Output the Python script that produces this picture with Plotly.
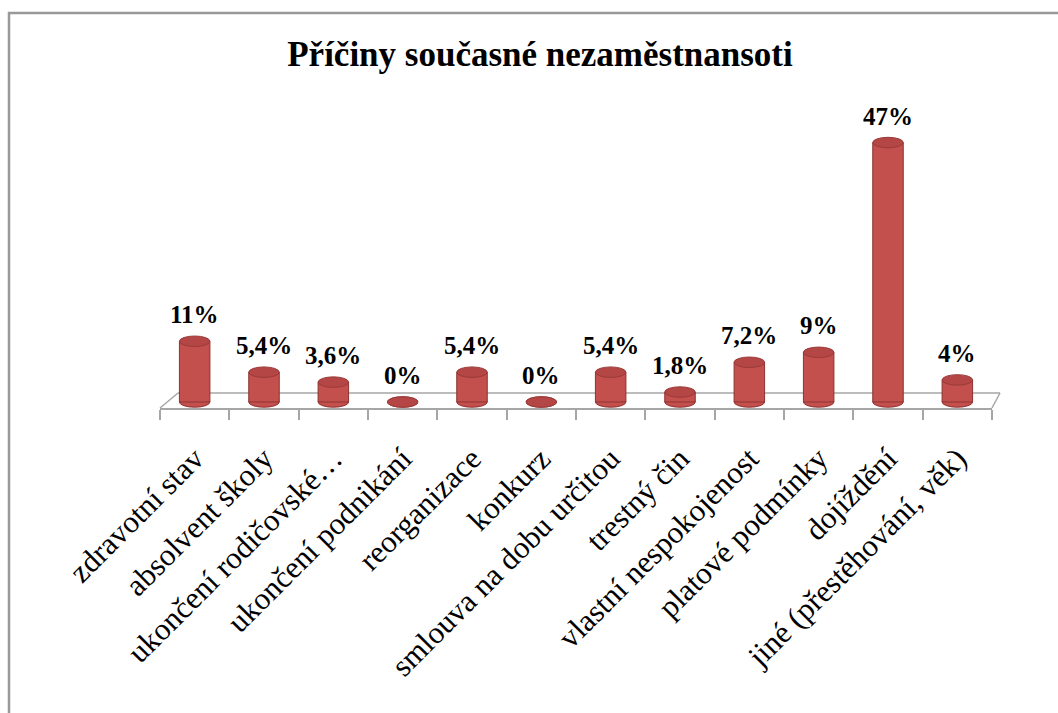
import plotly.graph_objects as go

categories = ["zdravotní stav", "absolvent školy", "ukončení rodičovské…", "ukončení podnikání",
              "reorganizace", "konkurz", "smlouva na dobu určitou", "trestný čin",
              "vlastní nespokojenost", "platové podmínky", "dojíždění", "jiné (přestěhování, věk)"]
values = [11, 5.4, 3.6, 0, 5.4, 0, 5.4, 1.8, 7.2, 9, 47, 4]
value_labels = ["11%", "5,4%", "3,6%", "0%", "5,4%", "0%", "5,4%", "1,8%", "7,2%", "9%", "47%", "4%"]
title_text = "Příčiny současné nezaměstnansoti"

W, H = 1058, 713
L, R, T, B = 160, 66, 126, 305
pw, ph = W - L - R, H - T - B

def px(x):
    return (x - L) / pw

def py(y):
    return (H - B - y) / ph

BAR_FILL = "#C4504E"
BAR_EDGE = "#8E3331"
label_font = dict(family="Liberation Serif", size=25, color="black", weight="bold")

fig = go.Figure()
fig.add_trace(go.Bar(
    x=list(range(len(categories))), y=values,
    marker=dict(color=BAR_FILL, line=dict(color=BAR_EDGE, width=1)),
    cliponaxis=False, hoverinfo="skip",
))

grey = "#A6A6A6"
shapes = [
    # chart frame (left and top edges)
    dict(type="line", xref="paper", yref="paper", x0=px(9), x1=px(9), y0=py(12), y1=py(H + 5),
         line=dict(color="#999999", width=2.5)),
    dict(type="line", xref="paper", yref="paper", x0=px(8), x1=px(W + 5), y0=py(13), y1=py(13),
         line=dict(color="#999999", width=2.5)),
    # floor back edge and sides
    dict(type="line", xref="paper", yref="paper", x0=px(178), x1=px(1000), y0=py(393), y1=py(393),
         line=dict(color=grey, width=1.5), layer="below"),
    dict(type="line", xref="paper", yref="paper", x0=px(L), x1=px(178), y0=0, y1=py(393),
         line=dict(color=grey, width=1.5), layer="below"),
    dict(type="line", xref="paper", yref="paper", x0=px(W - R), x1=px(1000), y0=0, y1=py(393),
         line=dict(color=grey, width=1.5), layer="below"),
]

half_w = 0.22   # half width of the cylinder in category units
cap_h = 0.95    # half height of the elliptical cap in value units
for i, v in enumerate(values):
    # rounded bottom of the cylinder
    shapes.append(dict(type="circle", xref="x", yref="y", x0=i - half_w, x1=i + half_w,
                       y0=-cap_h, y1=cap_h, fillcolor=BAR_FILL,
                       line=dict(color=BAR_EDGE, width=1), layer="below"))
    # elliptical top cap
    shapes.append(dict(type="circle", xref="x", yref="y", x0=i - half_w, x1=i + half_w,
                       y0=v - cap_h, y1=v + cap_h, fillcolor="#B44745",
                       line=dict(color="#9A3A38", width=1), layer="above"))

annotations = [
    dict(x=i, y=v, xref="x", yref="y", text=lab, showarrow=False, yanchor="bottom",
         yshift=11, font=label_font)
    for i, (v, lab) in enumerate(zip(values, value_labels))
]

fig.update_layout(
    width=W, height=H,
    margin=dict(l=L, r=R, t=T, b=B, autoexpand=False),
    paper_bgcolor="white", plot_bgcolor="white",
    title=dict(text=title_text, x=540 / W, xref="container", xanchor="center",
               y=1 - 54 / H, yref="container", yanchor="middle",
               font=dict(family="Liberation Serif", size=35, color="black", weight="bold")),
    bargap=0.56,
    showlegend=False,
    shapes=shapes,
    annotations=annotations,
    xaxis=dict(
        range=[-0.5, len(categories) - 0.5],
        tickmode="array", tickvals=list(range(len(categories))), ticktext=categories,
        showgrid=False, zeroline=False,
        showline=True, linecolor=grey, linewidth=2,
        ticks="", tickangle=-45, ticklabelstandoff=18,
        tickfont=dict(family="Liberation Serif", size=31, color="black"),
        minor=dict(tickvals=[k - 0.5 for k in range(len(categories) + 1)], ticks="outside",
                   ticklen=10, tickcolor=grey, tickwidth=2, showgrid=False),
    ),
    yaxis=dict(range=[-1.09, 50], visible=False, showgrid=False, zeroline=False),
)

fig.write_html("out.html", post_script="document.body.style.margin='0';",
               config={"displayModeBar": False})
